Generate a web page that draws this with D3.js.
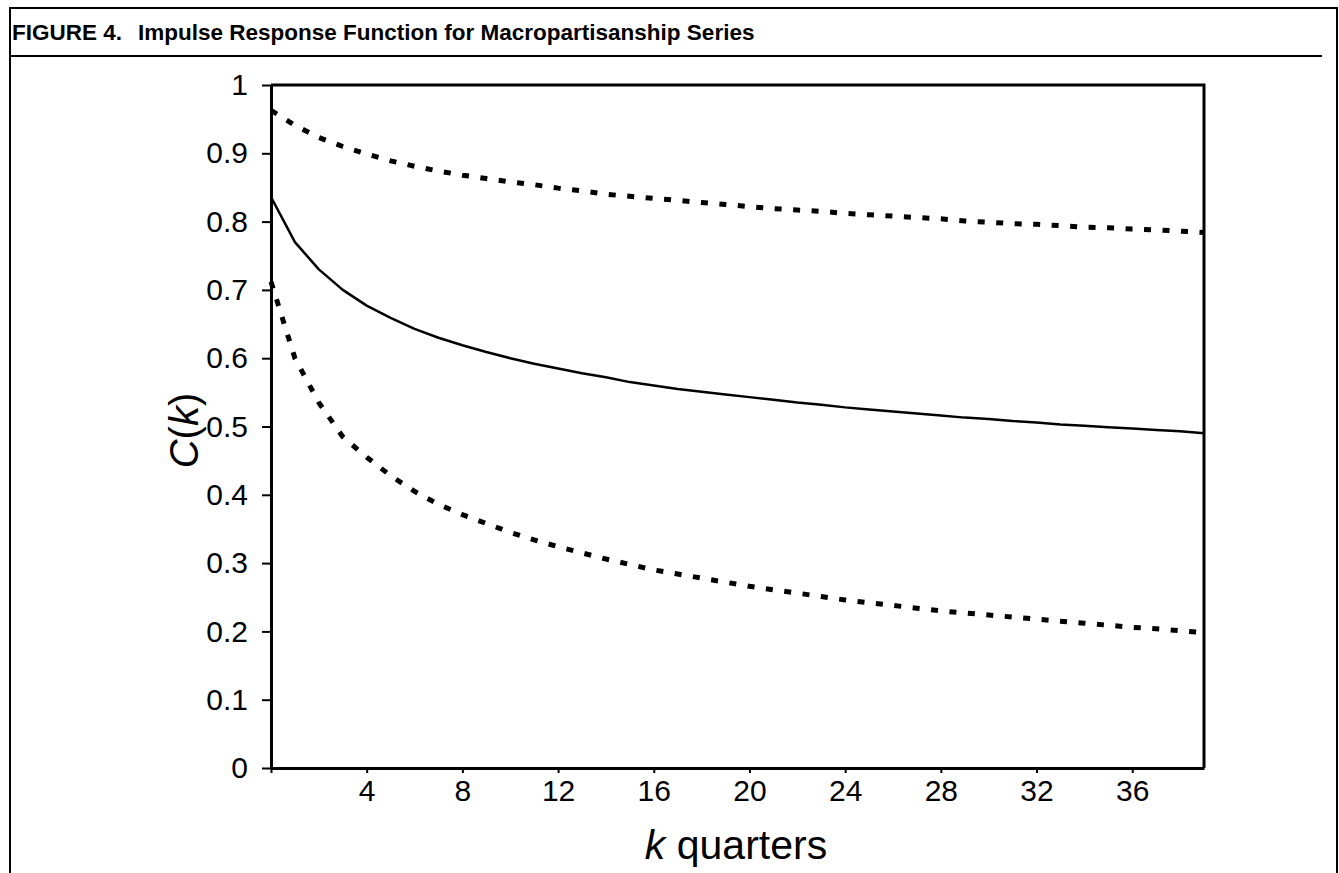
<!DOCTYPE html>
<html>
<head>
<meta charset="utf-8">
<script src="https://cdn.jsdelivr.net/npm/d3@7"></script>
<style>
  html, body { margin: 0; padding: 0; background: #fff; }
  svg { display: block; font-family: "Liberation Sans", Arial, Helvetica, sans-serif; }
</style>
</head>
<body>
<svg id="chart" width="1339" height="873"></svg>
<script>
// ---- data ----
const quarters = d3.range(0, 40);
const irfEstimate = [
  0.836, 0.770, 0.730, 0.700, 0.677, 0.659, 0.643, 0.630, 0.619, 0.609,
  0.600, 0.592, 0.585, 0.578, 0.572, 0.565, 0.560, 0.555, 0.551, 0.547,
  0.543, 0.539, 0.535, 0.532, 0.528, 0.525, 0.522, 0.519, 0.516, 0.513,
  0.511, 0.508, 0.506, 0.503, 0.501, 0.499, 0.497, 0.495, 0.493, 0.490
];
const irfUpper = [
  0.963, 0.941, 0.923, 0.910, 0.899, 0.889, 0.881, 0.874, 0.868, 0.863,
  0.858, 0.854, 0.849, 0.845, 0.840, 0.837, 0.834, 0.831, 0.828, 0.825,
  0.822, 0.819, 0.817, 0.815, 0.812, 0.810, 0.808, 0.806, 0.804, 0.801,
  0.799, 0.797, 0.796, 0.794, 0.792, 0.791, 0.789, 0.788, 0.786, 0.784
];
const irfLower = [
  0.712, 0.600, 0.535, 0.485, 0.455, 0.428, 0.405, 0.386, 0.371, 0.358,
  0.345, 0.334, 0.324, 0.315, 0.306, 0.298, 0.290, 0.284, 0.278, 0.272,
  0.266, 0.261, 0.256, 0.251, 0.246, 0.242, 0.238, 0.234, 0.230, 0.227,
  0.224, 0.221, 0.218, 0.215, 0.212, 0.209, 0.206, 0.204, 0.201, 0.198
];
const yTicks = [0, 0.1, 0.2, 0.3, 0.4, 0.5, 0.6, 0.7, 0.8, 0.9, 1];
const yTickLabels = ["0", "0.1", "0.2", "0.3", "0.4", "0.5", "0.6", "0.7", "0.8", "0.9", "1"];
const xTicks = [0, 4, 8, 12, 16, 20, 24, 28, 32, 36];
const xTickLabels = ["", "4", "8", "12", "16", "20", "24", "28", "32", "36"];
const titleLabel = "FIGURE 4.";
const titleText = "Impulse Response Function for Macropartisanship Series";

// ---- layout ----
const svg = d3.select("#chart");
const W = 1339, H = 873;
const plot = { left: 271, right: 1204, top: 85, bottom: 768 };

const x = d3.scaleLinear().domain([0, 39]).range([plot.left, plot.right]);
const y = d3.scaleLinear().domain([0, 1]).range([plot.bottom, plot.top]);

// outer figure frame
svg.append("path")
  .attr("d", `M10,${H} L10,8 L1337,8 L1337,${H}`)
  .attr("fill", "none").attr("stroke", "#000").attr("stroke-width", 2);
// title underline
svg.append("line")
  .attr("x1", 10).attr("x2", 1322).attr("y1", 56).attr("y2", 56)
  .attr("stroke", "#000").attr("stroke-width", 2);

// title
const title = svg.append("text")
  .attr("x", 12).attr("y", 40)
  .attr("font-size", 22.5).attr("font-weight", "bold").attr("fill", "#000");
title.append("tspan").text(titleLabel);
title.append("tspan").attr("dx", 16).text(titleText);

// plot frame (top & right)
svg.append("path")
  .attr("d", `M${plot.left},${plot.top} L${plot.right},${plot.top} L${plot.right},${plot.bottom}`)
  .attr("fill", "none").attr("stroke", "#000").attr("stroke-width", 3);

// axes
const yAxis = d3.axisLeft(y)
  .tickValues(yTicks)
  .tickFormat((d, i) => yTickLabels[i])
  .tickSize(9).tickSizeOuter(0).tickPadding(14);
const gy = svg.append("g").attr("transform", `translate(${plot.left},0)`).call(yAxis);
gy.select(".domain").attr("stroke-width", 3);
gy.selectAll(".tick line").attr("stroke-width", 2);
gy.selectAll(".tick text").attr("font-size", 30).attr("font-family", "Liberation Sans, Arial, sans-serif").attr("fill", "#000");

const xAxis = d3.axisBottom(x)
  .tickValues(xTicks)
  .tickFormat((d, i) => xTickLabels[i])
  .tickSize(5).tickSizeOuter(0).tickPadding(7);
const gx = svg.append("g").attr("transform", `translate(0,${plot.bottom})`).call(xAxis);
gx.select(".domain").attr("stroke-width", 3);
gx.selectAll(".tick line").attr("stroke-width", 2);
gx.selectAll(".tick text").attr("font-size", 30).attr("font-family", "Liberation Sans, Arial, sans-serif").attr("fill", "#000");

// axis titles
const xt = svg.append("text")
  .attr("x", 736).attr("y", 859)
  .attr("text-anchor", "middle").attr("font-size", 41).attr("fill", "#000");
xt.append("tspan").attr("font-style", "italic").text("k");
xt.append("tspan").text(" quarters");

const yt = svg.append("text")
  .attr("transform", `translate(198,${(plot.top + plot.bottom) / 2 + 4}) rotate(-90)`)
  .attr("text-anchor", "middle").attr("font-size", 40).attr("fill", "#000");
yt.append("tspan").attr("font-style", "italic").text("C");
yt.append("tspan").text("(");
yt.append("tspan").attr("font-style", "italic").text("k");
yt.append("tspan").text(")");

// lines
const line = vals => d3.line().x((d, i) => x(quarters[i])).y(d => y(d))(vals);

svg.append("path").attr("d", line(irfUpper))
  .attr("fill", "none").attr("stroke", "#000").attr("stroke-width", 5)
  .attr("stroke-dasharray", "7,11.5");
svg.append("path").attr("d", line(irfLower))
  .attr("fill", "none").attr("stroke", "#000").attr("stroke-width", 5)
  .attr("stroke-dasharray", "7,11.5");
svg.append("path").attr("d", line(irfEstimate))
  .attr("fill", "none").attr("stroke", "#000").attr("stroke-width", 2.5)
  .attr("stroke-linejoin", "round");
</script>
</body>
</html>
